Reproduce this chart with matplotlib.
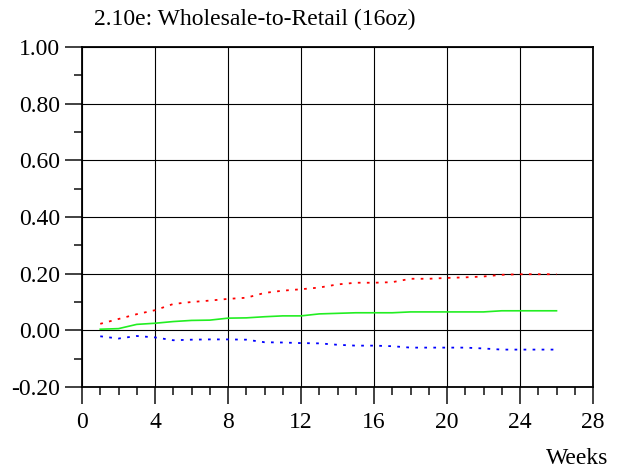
import numpy as np
import matplotlib
matplotlib.use("Agg")
import matplotlib.pyplot as plt
from matplotlib.ticker import MultipleLocator, FormatStrFormatter

plt.rcParams['font.family'] = ['Liberation Serif', 'DejaVu Serif']
plt.rcParams['axes.unicode_minus'] = False

# data
weeks = np.arange(1, 27)
upper = [0.023, 0.040, 0.057, 0.071, 0.093, 0.100, 0.105, 0.111, 0.115, 0.132,
         0.140, 0.145, 0.151, 0.162, 0.168, 0.168, 0.170, 0.182, 0.182, 0.185,
         0.187, 0.190, 0.196, 0.198, 0.198, 0.198]
mid = [0.004, 0.006, 0.021, 0.025, 0.031, 0.035, 0.036, 0.043, 0.044, 0.048,
       0.051, 0.051, 0.058, 0.060, 0.062, 0.062, 0.062, 0.065, 0.065, 0.065,
       0.065, 0.065, 0.069, 0.069, 0.069, 0.069]
lower = [-0.021, -0.029, -0.020, -0.025, -0.035, -0.033, -0.032, -0.032, -0.033, -0.042,
         -0.043, -0.045, -0.046, -0.051, -0.054, -0.054, -0.056, -0.061, -0.061, -0.061,
         -0.061, -0.064, -0.068, -0.068, -0.068, -0.068]

fig = plt.figure(figsize=(6.26, 4.73), dpi=100)
ax = fig.add_axes([82/626, 1-387/473, 511/626, 340/473])

ax.plot(weeks, upper, color='red', linestyle=(0, (1.5, 3.5)), linewidth=1.3)
ax.plot(weeks, mid, color='#22ee22', linestyle='-', linewidth=1.2)
ax.plot(weeks, lower, color='blue', linestyle=(0, (1.5, 3.5)), linewidth=1.3)

ax.set_xlim(0, 28)
ax.set_ylim(-0.2, 1.0)
ax.xaxis.set_major_locator(MultipleLocator(4))
ax.xaxis.set_minor_locator(MultipleLocator(1))
ax.yaxis.set_major_locator(MultipleLocator(0.2))
ax.yaxis.set_minor_locator(MultipleLocator(0.1))
ax.yaxis.set_major_formatter(FormatStrFormatter('%.2f'))

ax.grid(True, which='major', color='black', linewidth=0.8)
for s in ax.spines.values():
    s.set_linewidth(1.3)
ax.tick_params(which='major', direction='out', length=12, width=1.3, labelsize=17, color='#333333')
ax.tick_params(axis='x', which='major', pad=6)
ax.tick_params(axis='y', which='major', pad=4)
ax.tick_params(which='minor', direction='out', length=6, width=1.3, color='#333333')

fig.text(94/626, 1-19/473, "2.10e: Wholesale-to-Retail (16oz)", fontsize=17, ha='left', va='center')
fig.text(608/626, 1-458/473, "Weeks", fontsize=17, ha='right', va='center')

fig.savefig("out.png", dpi=100)
